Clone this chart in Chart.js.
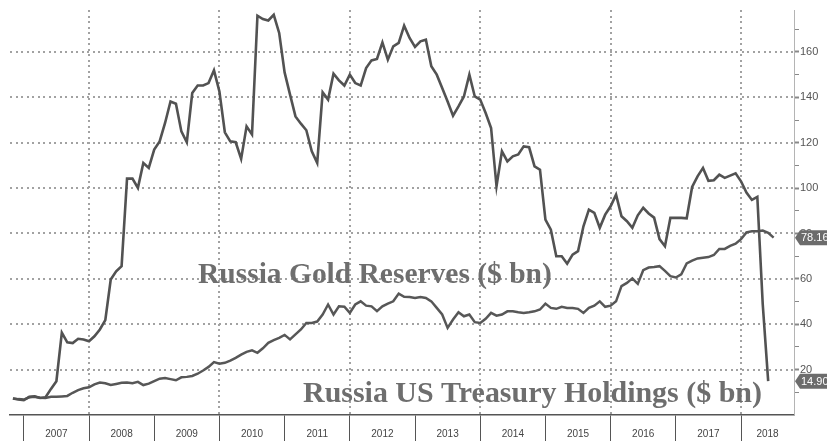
<!DOCTYPE html>
<html>
<head>
<meta charset="utf-8">
<title>Russia Treasury Holdings vs Gold Reserves</title>
<script src="https://cdn.jsdelivr.net/npm/chart.js@4.4.1/dist/chart.umd.min.js"></script>
<style>
  html, body { margin: 0; padding: 0; background: #fff; }
  #wrap { width: 827px; height: 441px; position: relative; }
</style>
</head>
<body>
<div id="wrap"><canvas id="reservesChart"></canvas></div>
<script>
// x is counted in months from Jan 2007; both series start two months earlier
var firstMonth = -2;

var years = ['2007', '2008', '2009', '2010', '2011', '2012', '2013', '2014', '2015', '2016', '2017', '2018'];

// Russia US Treasury holdings, $ bn, monthly
var treasury = [
    7.3, 6.8,
    6.5, 8.0, 8.2, 7.5, 7.8, 11.5, 14.9, 36.3, 32.0, 31.7, 33.6, 33.3,
    32.5, 34.7, 37.7, 41.8, 59.7, 63.3, 65.6, 104.2, 104.2, 100.1, 111.1, 108.9,
    117.0, 120.6, 128.7, 138.2, 137.2, 125.0, 120.2, 141.9, 145.2, 145.2, 146.3, 151.9,
    142.6, 124.6, 120.6, 120.2, 112.9, 127.2, 123.6, 176.0, 174.5, 173.9, 176.4, 168.4,
    151.0, 141.2, 131.6, 128.4, 125.5, 116.2, 111.1, 142.2, 139.0, 150.4, 147.5, 145.2,
    150.0, 146.3, 145.2, 152.9, 156.3, 156.9, 164.2, 156.6, 162.5, 164.0, 171.6, 166.2,
    162.2, 164.7, 165.4, 153.7, 150.0, 144.1, 138.2, 131.9, 136.0, 140.4, 150.0, 140.4,
    139.0, 133.1, 126.5, 100.8, 116.2, 111.8, 114.0, 114.8, 118.4, 118.0, 109.6, 108.1,
    86.1, 81.7, 70.0, 70.0, 66.7, 70.7, 72.2, 83.2, 90.5, 89.1, 82.5, 88.3,
    92.0, 97.1, 87.6, 85.4, 82.5, 88.0, 91.3, 88.8, 87.0, 77.5, 74.4, 86.9,
    86.9, 86.9, 86.7, 100.5, 105.2, 108.9, 103.2, 103.5, 105.9, 104.5, 105.5, 106.5,
    103.0, 98.0, 94.8, 96.1, 48.7, 14.9
];

// Russia gold reserves, $ bn, monthly
var gold = [
    7.3, 7.0,
    6.8, 7.8, 8.0, 7.6, 7.5, 8.0, 8.0, 8.2, 8.4, 9.8, 11.0, 11.8,
    12.2, 13.5, 14.3, 14.0, 13.2, 13.7, 14.2, 14.3, 14.0, 14.6, 13.2, 13.8,
    14.9, 16.0, 16.3, 15.8, 15.3, 16.6, 16.8, 17.2, 18.2, 19.6, 21.2, 23.3,
    22.6, 23.0, 24.0, 25.2, 26.6, 27.8, 28.5, 27.4, 29.4, 31.8, 33.0, 34.0,
    35.3, 33.3, 35.5, 37.7, 40.6, 40.6, 41.2, 44.3, 48.7, 44.3, 47.9, 47.7,
    45.0, 48.7, 50.1, 48.2, 47.9, 45.8, 47.9, 49.1, 50.1, 53.5, 52.1, 52.0,
    51.6, 52.0, 51.6, 50.1, 47.2, 44.3, 38.4, 42.1, 45.3, 43.5, 44.3, 40.9,
    40.6, 42.4, 45.0, 43.8, 44.3, 45.7, 45.7, 45.3, 45.0, 45.3, 45.7, 46.5,
    49.1, 47.2, 46.8, 47.7, 47.2, 47.2, 46.8, 45.0, 47.2, 48.2, 50.1, 47.7,
    48.2, 50.1, 56.8, 58.2, 60.2, 57.8, 63.8, 65.0, 65.2, 65.6, 63.5, 61.2,
    60.6, 62.0, 66.8, 68.0, 69.0, 69.3, 69.6, 70.5, 73.2, 73.2, 74.5, 75.5,
    77.5, 80.5, 81.0, 81.0, 81.3, 80.3, 78.16
];

var yTickLabels = [20, 40, 60, 80, 100, 120, 140, 160];
var seriesNames = ['Russia US Treasury Holdings ($ bn)', 'Russia Gold Reserves ($ bn)'];

function toPoints(values) {
    return values.map(function (v, i) {
        return { x: firstMonth + i, y: v };
    });
}

var clear = 'rgba(0,0,0,0)';

// dotted grid: every other year boundary and the labelled y values,
// drawn as little square dots
var dottedGrid = {
    id: 'dottedGrid',
    beforeDatasetsDraw: function (chart) {
        var ctx = chart.ctx, area = chart.chartArea;
        var xs = chart.scales.x, ys = chart.scales.y;
        var gap = 5.5, p;
        ctx.save();
        ctx.fillStyle = '#a2a2a2';
        yTickLabels.forEach(function (v) {
            var y = Math.round(ys.getPixelForValue(v)) - 1;
            for (p = area.left; p < area.right; p += gap) {
                ctx.fillRect(Math.round(p), y, 2, 2);
            }
        });
        years.forEach(function (label, i) {
            if (i % 2 === 0) return;
            var x = Math.round(xs.getPixelForValue(i * 12)) - 1;
            for (p = area.top; p < area.bottom; p += gap) {
                ctx.fillRect(x, Math.round(p), 2, 2);
            }
        });
        ctx.restore();
    }
};

// big serif series names and the last-value tags on the right axis
var overlay = {
    id: 'overlay',
    afterDatasetsDraw: function (chart) {
        var ctx = chart.ctx;
        var xs = chart.scales.x, ys = chart.scales.y;
        var names = [
            { text: seriesNames[1], from: 32.06, to: 97.2, base: 58.0 },
            { text: seriesNames[0], from: 51.39, to: 135.87, base: 5.9 }
        ];
        ctx.save();
        ctx.fillStyle = '#6e6e6e';
        ctx.textAlign = 'left';
        ctx.textBaseline = 'alphabetic';
        names.forEach(function (n) {
            var x1 = xs.getPixelForValue(n.from);
            var x2 = xs.getPixelForValue(n.to);
            ctx.font = 'bold 27px "Liberation Serif"';
            var w = ctx.measureText(n.text).width;
            var size = 27 * (x2 - x1) / w;
            ctx.font = 'bold ' + size.toFixed(2) + 'px "Liberation Serif"';
            ctx.fillText(n.text, x1, ys.getPixelForValue(n.base));
        });
        ctx.restore();
    },
    afterDraw: function (chart) {
        var ctx = chart.ctx;
        var ys = chart.scales.y;
        var x = chart.chartArea.right + 1;
        [treasury, gold].forEach(function (series) {
            var last = series[series.length - 1];
            var y = ys.getPixelForValue(last);
            var h = 15;
            ctx.save();
            ctx.fillStyle = '#6c6c6c';
            ctx.beginPath();
            ctx.moveTo(x, y);
            ctx.lineTo(x + 5, y - h / 2);
            ctx.lineTo(x + 45, y - h / 2);
            ctx.lineTo(x + 45, y + h / 2);
            ctx.lineTo(x + 5, y + h / 2);
            ctx.closePath();
            ctx.fill();
            ctx.fillStyle = '#ffffff';
            ctx.font = '11px "Liberation Sans"';
            ctx.textAlign = 'left';
            ctx.textBaseline = 'middle';
            ctx.fillText(last.toFixed(2), x + 6, y + 0.5);
            ctx.restore();
        });
    }
};

var ctx = document.getElementById('reservesChart').getContext('2d');
var reservesChart = new Chart(ctx, {
    type: 'line',
    data: {
        datasets: [
            {
                label: seriesNames[0],
                data: toPoints(treasury),
                borderColor: '#525252',
                borderWidth: 2.6,
                pointRadius: 0,
                tension: 0
            },
            {
                label: seriesNames[1],
                data: toPoints(gold),
                borderColor: '#575757',
                borderWidth: 2.5,
                pointRadius: 0,
                tension: 0
            }
        ]
    },
    options: {
        responsive: true,
        maintainAspectRatio: false,
        animation: false,
        layout: {
            padding: { left: 10, top: 10, right: 0, bottom: 0 }
        },
        scales: {
            x: {
                type: 'linear',
                min: -2.54,
                max: 141.75,
                afterBuildTicks: function (scale) {
                    var ticks = [];
                    years.forEach(function (y, i) {
                        var start = i * 12;
                        var end = Math.min(start + 12, scale.max);
                        ticks.push({ value: start });
                        ticks.push({ value: (start + end) / 2 });
                    });
                    scale.ticks = ticks;
                },
                afterFit: function (scale) {
                    scale.height = 26;
                },
                ticks: {
                    autoSkip: false,
                    maxRotation: 0,
                    padding: -13,
                    color: '#444',
                    font: { family: 'Liberation Sans', size: 10 },
                    callback: function (value) {
                        if (value % 12 === 0) return '';
                        return years[Math.floor(value / 12)];
                    }
                },
                grid: {
                    drawOnChartArea: false,
                    color: clear,
                    tickColor: function (c) {
                        return c.tick && c.tick.value % 12 === 0 ? '#555' : clear;
                    },
                    tickLength: 26,
                    tickWidth: 1
                },
                border: {
                    display: true,
                    color: '#555',
                    width: 1.5
                }
            },
            y: {
                position: 'right',
                min: 0,
                max: 178.5,
                afterBuildTicks: function (scale) {
                    var ticks = [];
                    for (var v = 10; v <= 170; v += 10) ticks.push({ value: v });
                    scale.ticks = ticks;
                },
                afterFit: function (scale) {
                    scale.width = 33;
                },
                ticks: {
                    padding: 1,
                    color: '#555',
                    font: { family: 'Liberation Sans', size: 11 },
                    callback: function (value) {
                        return yTickLabels.indexOf(value) >= 0 ? String(value) : '';
                    }
                },
                grid: {
                    drawOnChartArea: false,
                    color: clear,
                    tickColor: '#888',
                    tickWidth: function (c) {
                        return c.tick && yTickLabels.indexOf(c.tick.value) >= 0 ? 2 : 1;
                    },
                    tickLength: 5
                },
                border: {
                    display: true,
                    color: '#b4b4b4',
                    width: 1
                }
            }
        },
        plugins: {
            legend: { display: false },
            tooltip: { enabled: false }
        }
    },
    plugins: [dottedGrid, overlay]
});
</script>
</body>
</html>
